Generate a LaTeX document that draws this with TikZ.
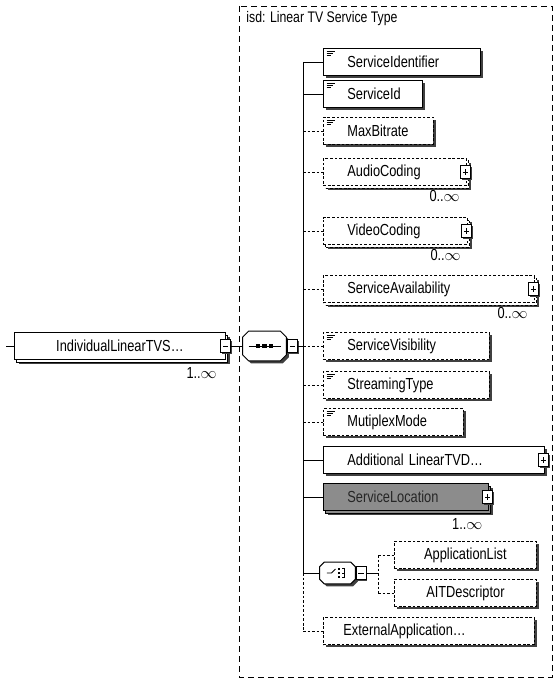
\documentclass[tikz,border=0pt]{standalone}
\usepackage{fontspec}
\setmainfont{Liberation Sans}[FakeStretch=0.8]
\usetikzlibrary{shadows}

\begin{document}
\begin{tikzpicture}[x=0.75pt,y=-0.75pt,line width=0.6pt,
    elem/.style={draw, fill=white, anchor=west, minimum height=20.25pt, inner xsep=3pt, inner ysep=2pt, align=left, font=\fontsize{12}{14}\selectfont},
    opt/.style={dash pattern=on 2pt off 1.4pt},
    shadowed/.style={drop shadow={shadow xshift=1.8pt, shadow yshift=-1.8pt, fill=black!75, opacity=1}},
    multi/.style={drop shadow={shadow xshift=3.6pt, shadow yshift=-3.6pt, fill=black!75, opacity=1}, copy shadow={shadow xshift=1.8pt, shadow yshift=-1.8pt}},
    simple/.style={path picture={\draw[solid, line width=0.6pt]
        ([xshift=2.5pt,yshift=-2.5pt]path picture bounding box.north west) -- ++(6pt,0)
        ([xshift=2.5pt,yshift=-4pt]path picture bounding box.north west) -- ++(5pt,0)
        ([xshift=2.5pt,yshift=-5.5pt]path picture bounding box.north west) -- ++(3.5pt,0);}},
    pmbox/.style={draw, fill=white, minimum width=7.5pt, minimum height=9.5pt, inner sep=0pt, drop shadow={shadow xshift=0.9pt, shadow yshift=-0.9pt, fill=black!75, opacity=1}},
    plusbox/.style={pmbox, path picture={\draw[line width=0.5pt] ([xshift=-2pt]path picture bounding box.center) -- ++(4pt,0) ([yshift=-2pt]path picture bounding box.center) -- ++(0,4pt);}},
    minusbox/.style={pmbox, path picture={\draw[line width=0.5pt] ([xshift=-2pt]path picture bounding box.center) -- ++(4pt,0);}},
    occurs/.style={anchor=north east, inner sep=0.5pt, font=\fontsize{12}{13}\selectfont},
    comp/.style={rectangle, inner sep=0pt},
    isdframe/.style={dash pattern=on 4.5pt off 3pt, line width=0.6pt},
    isdtitle/.style={anchor=west, inner sep=0pt, font=\fontsize{11.5}{13}\selectfont}]
    \useasboundingbox (0,0) rectangle (559,681);

    % isd type frame
    \draw[isdframe] (239,6) rectangle (552,677);
    \node[isdtitle] (ttl) at (246,19) {isd: Linear TV Service Type};

    % top element
    \coordinate (in) at (6,346);
    \node[elem, multi, text width=152.25pt, align=center] (ilt) at (14,346) {IndividualLinearTVS\dots};
    \node[minusbox] (iltm) at (ilt.east) {};
    \node[occurs] at ([xshift=-6pt,yshift=-5pt]ilt.south east) {1..$\infty$};
    \draw (in) -- (ilt.west);

    % compositors (octagons)
    \node[comp, minimum width=32.25pt, minimum height=21.75pt] (seq) at (264.5,346) {};
    \node[comp, minimum width=26.25pt, minimum height=15.75pt] (chc) at (337.5,573) {};
    \foreach \c/\s in {seq/4.5pt, chc/3.5pt}
        \draw[fill=white, line width=0.7pt, shadowed]
            ([xshift=\s]\c.north west) -- ([xshift=-\s]\c.north east) -- ([yshift=-\s]\c.north east)
            -- ([yshift=\s]\c.south east) -- ([xshift=-\s]\c.south east) -- ([xshift=\s]\c.south west)
            -- ([yshift=\s]\c.south west) -- ([yshift=-\s]\c.north west) -- cycle;

    % sequence
    \draw ([xshift=-12pt]seq.center) -- ([xshift=12pt]seq.center);
    \foreach \dx in {-5,0,5}
        \fill ([xshift=\dx pt]seq.center) ++(-1.6pt,-1.6pt) rectangle ++(3.2pt,3.2pt);
    \node[minusbox] (seqm) at (292.5,346) {};
    \draw (iltm.east) -- (seq.west);
    \draw (seq.east) -- (seqm.west);

    \coordinate (spine) at (303,0);
    \draw (seqm.east) -- (spine |- seqm.east);

    % child elements
    \node[elem, shadowed, simple, text width=111.75pt] (sid) at (323,62) {\hspace*{15pt}ServiceIdentifier};
    \node[elem, shadowed, simple, text width=68.25pt] (sidn) at (323,94) {\hspace*{15pt}ServiceId};
    \node[elem, opt, shadowed, simple, text width=76.5pt] (mb) at (323,131) {\hspace*{15pt}MaxBitrate};

    \node[elem, opt, multi, text width=101.25pt] (ac) at (323,172) {\hspace*{15pt}AudioCoding};
    \node[plusbox] at ([xshift=-1pt]ac.east) {};
    \node[occurs] at ([xshift=-4.5pt,yshift=-2.5pt]ac.south east) {0..$\infty$};

    \node[elem, opt, multi, text width=102pt] (vc) at (323,231) {\hspace*{15pt}VideoCoding};
    \node[plusbox] at ([xshift=-1pt]vc.east) {};
    \node[occurs] at ([xshift=-4.5pt,yshift=-2.5pt]vc.south east) {0..$\infty$};

    \node[elem, opt, multi, text width=152.25pt] (sa) at (323,289) {\hspace*{15pt}ServiceAvailability};
    \node[plusbox] at ([xshift=-1pt]sa.east) {};
    \node[occurs] at ([xshift=-4.5pt,yshift=-2.5pt]sa.south east) {0..$\infty$};

    \node[elem, opt, shadowed, simple, text width=118.5pt] (sv) at (323,346) {\hspace*{15pt}ServiceVisibility};
    \node[elem, opt, shadowed, simple, text width=118.5pt] (st) at (323,385) {\hspace*{15pt}StreamingType};
    \node[elem, opt, shadowed, simple, text width=99pt] (mm) at (323,422) {\hspace*{15pt}MutiplexMode};

    \node[elem, shadowed, text width=159.75pt] (alt) at (323,460) {\hspace*{15pt}Additional LinearTVD\dots};
    \node[plusbox] at ([xshift=-1pt]alt.east) {};

    \node[elem, multi, fill=black!45, text=black!85, text width=117.75pt] (sl) at (323,497) {\hspace*{15pt}ServiceLocation};
    \node[plusbox] at ([xshift=-1pt]sl.east) {};
    \node[occurs] at ([xshift=-4pt,yshift=-5pt]sl.south east) {1..$\infty$};

    % choice
    \draw ([xshift=-8pt]chc.center) -- ([xshift=-4.5pt]chc.center) -- ([xshift=-1.5pt,yshift=3pt]chc.center);
    \foreach \dy in {-3,0,3}
        \fill ([xshift=1pt,yshift=\dy pt]chc.center) ++(-1pt,-1pt) rectangle ++(2pt,2pt);
    \draw ([xshift=3.5pt,yshift=3.5pt]chc.center) -- ++(2pt,0) -- ++(0,-7pt) -- ++(-2pt,0)
        ([xshift=3.5pt]chc.center) -- ++(2pt,0);
    \node[minusbox] (chm) at (361,573) {};
    \draw (chc.east) -- (chm.west);

    \node[elem, opt, shadowed, text width=100.5pt, align=center] (al) at (394,555) {ApplicationList};
    \node[elem, opt, shadowed, text width=100.5pt, align=center] (aitd) at (394,593) {AITDescriptor};

    \coordinate (fork) at (378,0);
    \draw (chm.east) -- (fork |- chm.east);
    \draw[opt] (fork |- al.west) -- (fork |- aitd.west);
    \draw[opt] (fork |- al.west) -- (al.west);
    \draw[opt] (fork |- aitd.west) -- (aitd.west);

    \node[elem, opt, shadowed, text width=152.25pt] (ext) at (323,631) {\hspace*{12pt}ExternalApplication\dots};

    % spine and links
    \draw (spine |- sid.west) -- (spine |- chc.west);
    \draw[opt] (spine |- chc.west) -- (spine |- ext.west);
    \foreach \n in {sid,sidn,alt,sl,chc}
        \draw (spine |- \n.west) -- (\n.west);
    \foreach \n in {mb,ac,vc,sa,sv,st,mm,ext}
        \draw[opt] (spine |- \n.west) -- (\n.west);
\end{tikzpicture}
\end{document}
